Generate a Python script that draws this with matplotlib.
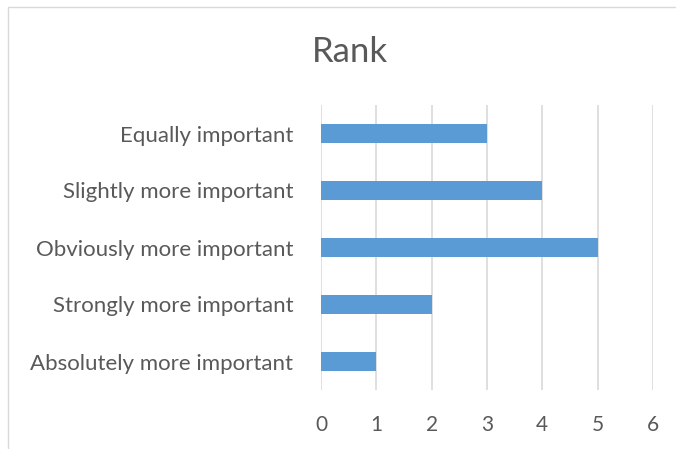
import matplotlib.pyplot as plt
from matplotlib.patches import Rectangle

categories = ['Absolutely more important', 'Strongly more important',
              'Obviously more important', 'Slightly more important',
              'Equally important']
values = [1, 2, 5, 4, 3]
xticks = [0, 1, 2, 3, 4, 5, 6]

plt.rcParams['font.family'] = ['Lato', 'DejaVu Sans']
text_color = '#595959'

fig = plt.figure(figsize=(6.76, 4.49), dpi=100)
ax = fig.add_axes([321 / 676, 1 - 390 / 449, 332 / 676, 285 / 449])

ax.barh(range(len(categories)), values, height=0.35, color='#5B9BD5', zorder=3)
ax.set_xlim(0, 6)
ax.set_ylim(-0.5, len(categories) - 0.5)
ax.set_xticks(xticks)
ax.set_yticks(range(len(categories)))
ax.set_yticklabels(categories)
ax.grid(axis='x', color='#D9D9D9', linewidth=1.2, zorder=0)
for s in ax.spines.values():
    s.set_visible(False)
ax.tick_params(axis='both', length=0, colors=text_color)
ax.tick_params(axis='y', pad=20, labelsize=16)
ax.tick_params(axis='x', pad=18, labelsize=15)

fig.text(350 / 676, 1 - 52 / 449, 'Rank', ha='center', va='center',
         fontsize=25, color=text_color)

# chart border (partly cropped)
fig.patches.append(Rectangle((8 / 676, -0.1), 1.1, 1 - 7 / 449 + 0.1,
                             transform=fig.transFigure, fill=False,
                             edgecolor='#D9D9D9', linewidth=1))

fig.savefig('out.png', dpi=100)
